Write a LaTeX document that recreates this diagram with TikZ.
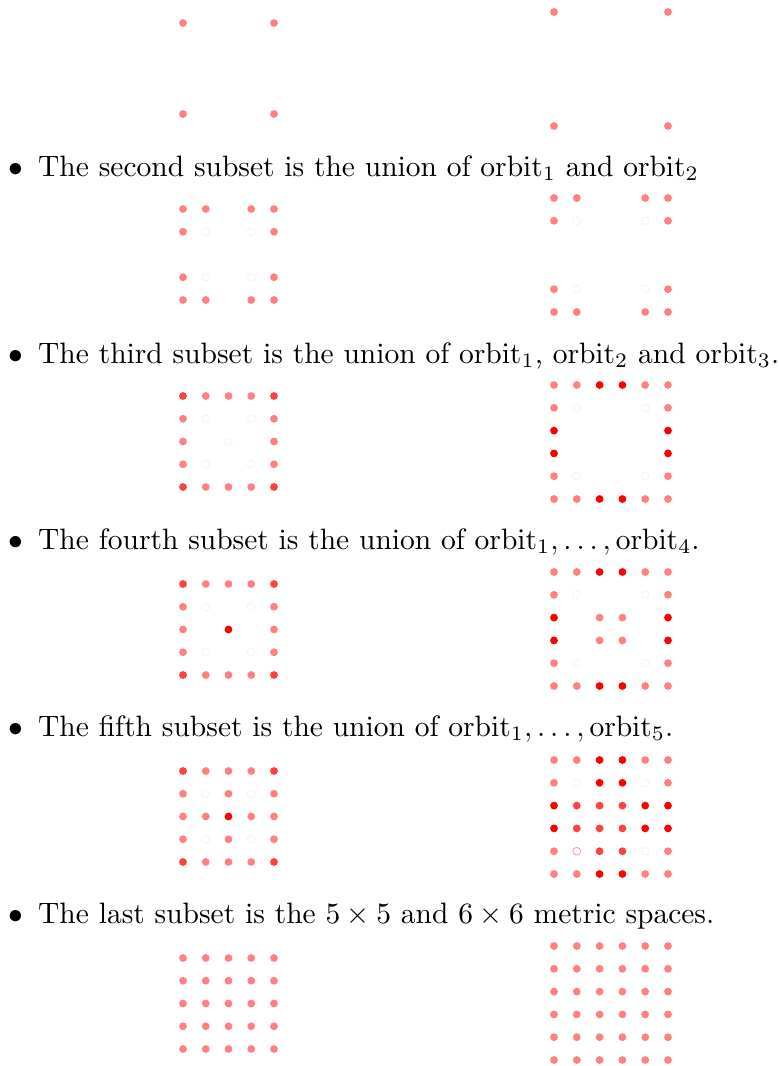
\documentclass[tikz,border=0pt]{standalone}
\usepackage{amsmath}
\usepackage{graphicx}
\newcommand{\bigtext}[1]{\scalebox{2.95}{#1}}
\tikzset{
  dotL/.style={fill=red!50},
  dotD/.style={fill=red!75},
  dotR/.style={fill=red},
  dotF/.style={draw=red!9, line width=0.6pt, fill=white},
  dotO/.style={draw=red!40, line width=0.8pt, fill=white},
  txt/.style={anchor=base west, inner sep=0pt, font=\normalsize},
  bul/.style={anchor=base, inner sep=0pt, font=\normalsize},
}
% #1 style, #2 x0, #3 y0, #4 list col/row
\newcommand{\leftdots}[4]{\foreach \dcol/\drow in {#4} \path[#1] ({#2+(\dcol-1)*22.75},{#3+(\drow-1)*22.75}) circle (3.9pt);}
\newcommand{\rightdots}[4]{\foreach \dcol/\drow in {#4} \path[#1] ({#2+(\dcol-1)*22.8},{#3+(\drow-1)*22.8}) circle (3.9pt);}
\begin{document}
\begin{tikzpicture}[x=1pt,y=-1pt]
\useasboundingbox (0,0) rectangle (779,1066);
% ---- section 1 ----
\leftdots{dotL}{183}{23}{1/1,5/1,1/5,5/5}
\rightdots{dotL}{554}{12}{1/1,6/1,1/6,6/6}
% ---- section 2 ----
\node[bul] (b2) at (16,176) {\bigtext{$\bullet$}};
\node[txt] (t2) at (38,176) {\bigtext{The second subset is the union of $\mathrm{orbit}_1$ and $\mathrm{orbit}_2$}};
\leftdots{dotL}{183}{209}{1/1,2/1,4/1,5/1,1/2,5/2,1/4,5/4,1/5,2/5,4/5,5/5}
\leftdots{dotF}{183}{209}{2/2,4/2,2/4,4/4}
\rightdots{dotL}{554}{198}{1/1,2/1,5/1,6/1,1/2,6/2,1/5,6/5,1/6,2/6,5/6,6/6}
\rightdots{dotF}{554}{198}{2/2,5/2,2/5,5/5}
% ---- section 3 ----
\node[bul] (b3) at (16,363) {\bigtext{$\bullet$}};
\node[txt] (t3) at (38,363) {\bigtext{The third subset is the union of $\mathrm{orbit}_1$, $\mathrm{orbit}_2$ and $\mathrm{orbit}_3$.}};
\leftdots{dotD}{183}{396}{1/1,5/1,1/5,5/5}
\leftdots{dotL}{183}{396}{2/1,3/1,4/1,1/2,5/2,1/3,5/3,1/4,5/4,2/5,3/5,4/5}
\leftdots{dotF}{183}{396}{2/2,4/2,3/3,2/4,4/4}
\rightdots{dotL}{554}{385}{1/1,2/1,5/1,6/1,1/2,6/2,1/5,6/5,1/6,2/6,5/6,6/6}
\rightdots{dotR}{554}{385}{3/1,4/1,1/3,6/3,1/4,6/4,3/6,4/6}
\rightdots{dotF}{554}{385}{2/2,5/2,2/5,5/5}
% ---- section 4 ----
\node[bul] (b4) at (16,549) {\bigtext{$\bullet$}};
\node[txt] (t4) at (38,549) {\bigtext{The fourth subset is the union of $\mathrm{orbit}_1,\ldots,\mathrm{orbit}_4$.}};
\leftdots{dotD}{183}{584}{1/1,5/1,1/5,5/5}
\leftdots{dotL}{183}{584}{2/1,3/1,4/1,1/2,5/2,1/3,5/3,1/4,5/4,2/5,3/5,4/5}
\leftdots{dotR}{183}{584}{3/3}
\leftdots{dotF}{183}{584}{2/2,4/2,2/4,4/4}
\rightdots{dotL}{554}{572}{1/1,2/1,5/1,6/1,1/2,6/2,1/5,6/5,1/6,2/6,5/6,6/6,3/3,4/3,3/4,4/4}
\rightdots{dotR}{554}{572}{3/1,4/1,1/3,6/3,1/4,6/4,3/6,4/6}
\rightdots{dotF}{554}{572}{2/2,5/2,2/5,5/5}
% ---- section 5 ----
\node[bul] (b5) at (16,736) {\bigtext{$\bullet$}};
\node[txt] (t5) at (38,736) {\bigtext{The fifth subset is the union of $\mathrm{orbit}_1,\ldots,\mathrm{orbit}_5$.}};
\leftdots{dotD}{183}{771}{1/1,5/1,1/5,5/5}
\leftdots{dotL}{183}{771}{2/1,3/1,4/1,1/2,5/2,1/3,5/3,1/4,5/4,2/5,3/5,4/5,3/2,2/3,4/3,3/4}
\leftdots{dotR}{183}{771}{3/3}
\leftdots{dotF}{183}{771}{2/2,4/2,2/4,4/4}
\rightdots{dotL}{554}{760}{1/1,2/1,5/1,6/1,1/2,6/2,1/5,6/5,1/6,2/6,5/6,6/6}
\rightdots{dotR}{554}{760}{3/1,4/1,3/2,4/2,1/3,5/3,6/3,1/4,5/4,6/4,3/6,4/6}
\rightdots{dotD}{554}{760}{2/3,3/3,4/3,2/4,3/4,4/4,3/5,4/5}
\rightdots{dotF}{554}{760}{2/2,5/2,5/5}
\rightdots{dotO}{554}{760}{2/5}
% ---- section 6 ----
\node[bul] (b6) at (16,923) {\bigtext{$\bullet$}};
\node[txt] (t6) at (38,923) {\bigtext{The last subset is the $5\times 5$ and $6\times 6$ metric spaces.}};
\leftdots{dotL}{183}{958}{1/1,2/1,3/1,4/1,5/1,1/2,2/2,3/2,4/2,5/2,1/3,2/3,3/3,4/3,5/3,1/4,2/4,3/4,4/4,5/4,1/5,2/5,3/5,4/5,5/5}
\rightdots{dotL}{554}{946}{1/1,2/1,3/1,4/1,5/1,6/1,1/2,2/2,3/2,4/2,5/2,6/2,1/3,2/3,3/3,4/3,5/3,6/3,1/4,2/4,3/4,4/4,5/4,6/4,1/5,2/5,3/5,4/5,5/5,6/5,1/6,2/6,3/6,4/6,5/6,6/6}
\end{tikzpicture}
\end{document}
